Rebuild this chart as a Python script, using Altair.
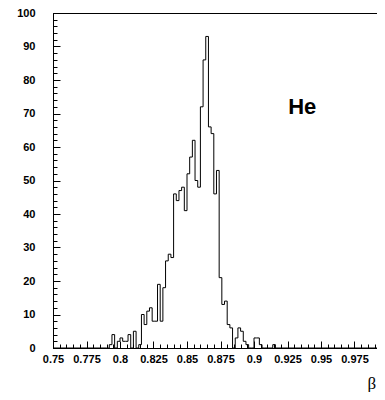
import altair as alt
import pandas as pd

# Histogram of beta: bins of width 0.002, counts starting at bin edge 0.790
first_edge = 0.790
bin_width = 0.002
counts = [
    0, 1, 4, 0, 2, 3, 2, 2, 4, 0,
    5, 0, 1, 10, 7, 11, 12, 8, 8, 19,
    8, 18, 26, 28, 27, 46, 44, 47, 48, 41,
    52, 57, 62, 50, 48, 72, 86, 93, 66, 64,
    46, 53, 21, 13, 14, 7, 6, 0, 3, 6,
    5, 2, 1, 0, 0, 3, 3, 1, 0, 0,
    0, 0, 1, 0,
]
x_range = [0.75, 1.0]
y_range = [0, 100]
x_major = [0.75, 0.775, 0.8, 0.825, 0.85, 0.875, 0.9, 0.925, 0.95, 0.975, 1.0]
x_labels = [0.75, 0.775, 0.8, 0.825, 0.85, 0.875, 0.9, 0.925, 0.95, 0.975]
x_minor = [round(0.75 + 0.005 * i, 3) for i in range(51)]
y_major = [0, 10, 20, 30, 40, 50, 60, 70, 80, 90, 100]
y_minor = list(range(0, 101, 2))
label_text = ["He"]
label_x = [0.936]
label_y = [70]

edges = [round(first_edge + bin_width * i, 4) for i in range(len(counts))]
xs = [x_range[0]] + edges + [x_range[1]]
ys = [0] + counts + [0]
df = pd.DataFrame({"beta": xs, "count": ys})

W, H = 335, 335
xscale = alt.Scale(domain=x_range, nice=False, zero=False)
yscale = alt.Scale(domain=y_range, nice=False, zero=False)
FONT = "Liberation Sans"

hist = alt.Chart(df).mark_line(
    interpolate="step-after", color="black", strokeWidth=1, clip=True
).encode(
    x=alt.X("beta:Q", scale=xscale, axis=alt.Axis(
        orient="bottom", values=x_labels,
        labelExpr="format(datum.value, '~g')", ticks=False, grid=False,
        domain=True, domainColor="black", domainWidth=1,
        labelFont=FONT, labelFontWeight="bold", labelFontSize=11, labelColor="black",
        labelPadding=5, labelFlush=False, labelOverlap=False,
        title="β", titleFont="Liberation Serif", titleFontWeight="normal",
        titleFontSize=17, titleColor="black", titleAnchor="start",
        titleAlign="left", titleBaseline="alphabetic", titleX=314, titleY=40,
    )),
    y=alt.Y("count:Q", scale=yscale, axis=alt.Axis(
        orient="left", values=y_major, ticks=False, grid=False,
        domain=True, domainColor="black", domainWidth=1,
        labelFont=FONT, labelFontWeight="bold", labelFontSize=11, labelColor="black",
        labelPadding=18, labelFlush=False, labelOverlap=False, title=None,
    )),
)

def tick_layer(xv, yv, size):
    return alt.Chart(df).mark_point(opacity=0).encode(
        x=alt.X("beta:Q", scale=xscale, axis=alt.Axis(
            orient="top", offset=-H, values=xv, labels=False, domain=False,
            ticks=True, tickSize=size, tickColor="black", tickWidth=1,
            grid=False, title=None,
        )),
        y=alt.Y("count:Q", scale=yscale, axis=alt.Axis(
            orient="right", offset=-W, values=yv, labels=False, domain=False,
            ticks=True, tickSize=size, tickColor="black", tickWidth=1,
            grid=False, title=None,
        )),
    )

major = tick_layer(x_major, y_major, 7)
minor = tick_layer(x_minor, y_minor, 4)

lab_df = pd.DataFrame({"x": label_x, "y": label_y, "t": label_text})
label = alt.Chart(lab_df).mark_text(
    font=FONT, fontSize=22, fontWeight="bold", color="black",
    align="center", baseline="alphabetic",
).encode(
    x=alt.X("x:Q", scale=xscale, axis=None),
    y=alt.Y("y:Q", scale=yscale, axis=None),
    text="t:N",
)

chart = alt.layer(hist, major, minor, label).resolve_axis(
    x="independent", y="independent"
).properties(
    width=W, height=H,
    autosize=alt.AutoSizeParams(type="none"),
    padding={"left": 45, "top": 5, "right": -11, "bottom": 44},
).configure_view(stroke="black", strokeWidth=1)

chart.save("out.html", embed_options={"renderer": "svg", "actions": False})
